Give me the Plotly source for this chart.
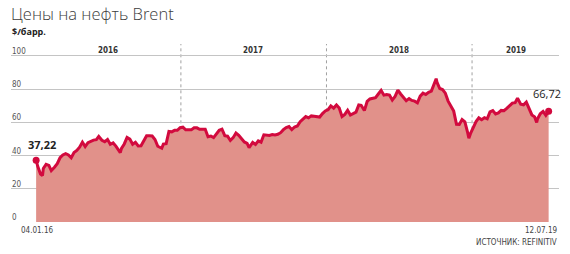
import plotly.graph_objects as go

dates = [
"2016-01-04","2016-01-08","2016-01-15","2016-01-20","2016-01-22","2016-01-29","2016-02-05","2016-02-11","2016-02-19","2016-02-26",
"2016-03-04","2016-03-11","2016-03-18","2016-03-25","2016-04-01","2016-04-08","2016-04-15","2016-04-22","2016-04-29","2016-05-06",
"2016-05-13","2016-05-20","2016-05-27","2016-06-03","2016-06-09","2016-06-17","2016-06-24","2016-07-01","2016-07-08","2016-07-15",
"2016-07-22","2016-08-02","2016-08-05","2016-08-12","2016-08-19","2016-08-26","2016-09-02","2016-09-09","2016-09-16","2016-09-23",
"2016-09-30","2016-10-07","2016-10-14","2016-10-21","2016-10-28","2016-11-04","2016-11-14","2016-11-18","2016-11-25","2016-12-02",
"2016-12-09","2016-12-16","2016-12-23","2016-12-30",
"2017-01-06","2017-01-13","2017-01-20","2017-01-27","2017-02-03","2017-02-10","2017-02-17","2017-02-24","2017-03-03","2017-03-10",
"2017-03-17","2017-03-24","2017-03-31","2017-04-07","2017-04-14","2017-04-21","2017-04-28","2017-05-05","2017-05-12","2017-05-19",
"2017-05-26","2017-06-02","2017-06-09","2017-06-16","2017-06-21","2017-06-30","2017-07-07","2017-07-14","2017-07-21","2017-07-28",
"2017-08-04","2017-08-11","2017-08-18","2017-08-25","2017-09-01","2017-09-08","2017-09-15","2017-09-22","2017-09-29","2017-10-06",
"2017-10-13","2017-10-20","2017-10-27","2017-11-03","2017-11-10","2017-11-17","2017-11-24","2017-12-01","2017-12-08","2017-12-15",
"2017-12-22","2017-12-29",
"2018-01-05","2018-01-12","2018-01-19","2018-01-26","2018-02-02","2018-02-09","2018-02-16","2018-02-23","2018-03-02","2018-03-09",
"2018-03-16","2018-03-23","2018-03-29","2018-04-06","2018-04-13","2018-04-20","2018-04-27","2018-05-04","2018-05-11","2018-05-18",
"2018-05-25","2018-06-01","2018-06-08","2018-06-15","2018-06-22","2018-06-29","2018-07-06","2018-07-13","2018-07-20","2018-07-27",
"2018-08-03","2018-08-10","2018-08-17","2018-08-24","2018-08-31","2018-09-07","2018-09-14","2018-09-21","2018-09-28","2018-10-03",
"2018-10-05","2018-10-12","2018-10-19","2018-10-26","2018-11-02","2018-11-09","2018-11-16","2018-11-23","2018-11-30","2018-12-07",
"2018-12-14","2018-12-21","2018-12-24","2018-12-28",
"2019-01-04","2019-01-11","2019-01-18","2019-01-25","2019-02-01","2019-02-08","2019-02-15","2019-02-22","2019-03-01","2019-03-08",
"2019-03-15","2019-03-22","2019-03-29","2019-04-05","2019-04-12","2019-04-19","2019-04-25","2019-05-03","2019-05-10","2019-05-17",
"2019-05-24","2019-05-31","2019-06-07","2019-06-12","2019-06-14","2019-06-21","2019-06-28","2019-07-05","2019-07-12",
]
prices = [
37.22,33.5,28.9,27.9,32.2,34.7,34.1,31.0,33.0,35.1,
38.7,40.4,41.2,40.4,38.7,41.9,43.1,45.1,48.1,45.4,
47.8,48.7,49.3,49.6,51.5,49.2,48.4,49.7,46.8,47.6,
45.7,41.8,44.3,47.0,50.9,49.9,46.8,48.0,45.8,45.9,
49.2,51.9,51.9,51.8,49.7,45.6,44.4,46.9,47.2,54.5,
54.3,55.2,55.2,56.8,
57.1,55.5,55.5,55.5,56.8,56.7,55.8,56.0,55.9,51.4,
51.8,50.8,52.8,55.2,55.9,52.0,51.7,49.1,50.8,53.6,
52.2,49.9,48.2,47.4,44.8,47.9,46.7,48.9,48.1,52.5,
52.4,52.1,52.7,52.4,52.8,53.8,55.6,56.9,57.5,55.6,
57.2,57.8,60.4,62.1,63.5,62.7,63.9,63.7,63.4,63.2,
65.3,66.9,
67.6,69.9,68.6,70.5,68.6,63.5,64.8,67.3,64.4,65.5,
66.2,70.5,70.3,67.1,72.6,74.1,74.6,74.9,77.1,79.3,
76.4,76.8,76.5,73.4,75.6,79.4,77.1,75.3,73.1,74.3,
73.2,72.8,71.8,75.8,77.6,76.8,78.1,78.8,82.7,86.3,
84.2,80.4,79.8,77.6,72.8,70.2,66.8,58.8,58.7,61.7,
60.3,53.8,50.5,53.2,
57.1,60.5,62.7,61.6,62.8,62.1,66.3,67.1,65.1,65.7,
67.2,67.0,68.4,70.3,71.6,71.9,74.6,70.9,70.6,72.2,
68.7,64.5,63.3,60.0,62.0,65.2,66.6,64.2,66.72,
]
y_ticks = [0, 20, 40, 60, 80, 100]
years = ["2016", "2017", "2018", "2019"]
year_starts = ["2017-01-01", "2018-01-01", "2019-01-01"]
year_label_pos = ["2016-07-02", "2017-07-02", "2018-07-02", "2019-04-21"]
start_label = "37,22"
end_label = "66,72"

LINE = "#d20a3e"
FILL = "#e1918a"
X_RANGE = ["2015-11-02", "2019-08-07"]
Y_MAX = 107.2
NARROW = "DejaVu Sans Condensed, Roboto Condensed, Roboto, sans-serif"

fig = go.Figure()
fig.add_trace(go.Scatter(
    x=dates, y=prices, mode="lines", fill="tozeroy",
    line=dict(color=LINE, width=3), fillcolor=FILL, hoverinfo="skip",
))
fig.add_trace(go.Scatter(
    x=[dates[0], dates[-1]], y=[prices[0], prices[-1]], mode="markers",
    marker=dict(color=LINE, size=7), hoverinfo="skip",
))

shapes = []
for d in year_starts:
    shapes.append(dict(type="line", xref="x", yref="y", x0=d, x1=d, y0=-2, y1=Y_MAX,
                       line=dict(color="#a0a0a0", width=1, dash="dot"), layer="below"))
fig.update_layout(shapes=shapes)

ann = []
for v in y_ticks:
    ann.append(dict(xref="paper", yref="y", x=0, y=v, xanchor="left", yanchor="bottom",
                    text=str(v), showarrow=False, yshift=-2, xshift=-1,
                    font=dict(family=NARROW, size=8, color="#555")))
for yl, pos in zip(years, year_label_pos):
    ann.append(dict(xref="x", yref="paper", x=pos, y=1, xanchor="center", yanchor="top",
                    text="<b>" + yl + "</b>", showarrow=False, yshift=0,
                    font=dict(family=NARROW, size=8, color="#333")))
ann.append(dict(xref="x", yref="y", x=dates[0], y=prices[0], xanchor="center", yanchor="bottom",
                text="<b>" + start_label + "</b>", showarrow=False, xshift=6, yshift=6,
                font=dict(family="Open Sans", size=11, color="#222")))
ann.append(dict(xref="x", yref="y", x=dates[-1], y=prices[-1], xanchor="center", yanchor="bottom",
                text=end_label, showarrow=False, xshift=-2, yshift=8,
                font=dict(family="Open Sans", size=11, color="#222")))
ann.append(dict(xref="x", yref="paper", x=dates[0], y=0, xanchor="center", yanchor="top",
                text="04.01.16", showarrow=False, xshift=1, yshift=-2,
                font=dict(family=NARROW, size=8, color="#444")))
ann.append(dict(xref="paper", yref="paper", x=1, y=0, xanchor="right", yanchor="top",
                text="12.07.19", showarrow=False, yshift=-2,
                font=dict(family=NARROW, size=8, color="#444")))
ann.append(dict(xref="paper", yref="paper", x=1, y=0, xanchor="right", yanchor="top",
                text="ИСТОЧНИК: REFINITIV", showarrow=False, yshift=-14,
                font=dict(family=NARROW, size=8, color="#444")))
ann.append(dict(xref="paper", yref="paper", x=0, y=1, xanchor="left", yanchor="bottom",
                text="Цены на нефть Brent", showarrow=False, yshift=17, xshift=-2,
                font=dict(family="Open Sans", size=16.5, color="#3c3c3c", weight=300)))
ann.append(dict(xref="paper", yref="paper", x=0, y=1, xanchor="left", yanchor="bottom",
                text="<b>$/барр.</b>", showarrow=False, yshift=4, xshift=-1,
                font=dict(family="Open Sans", size=9, color="#222")))
fig.update_layout(annotations=ann)

fig.update_layout(
    width=570, height=254, margin=dict(l=11, r=11, t=44, b=32),
    paper_bgcolor="white", plot_bgcolor="white", showlegend=False,
    xaxis=dict(range=X_RANGE, type="date", showgrid=False, showticklabels=False,
               zeroline=False, showline=False, ticks=""),
    yaxis=dict(range=[0, Y_MAX], tickvals=y_ticks, showticklabels=False, showgrid=True,
               gridcolor="#c4c4c4", gridwidth=1, zeroline=False, showline=False, ticks=""),
)
fig.write_html("out.html")
